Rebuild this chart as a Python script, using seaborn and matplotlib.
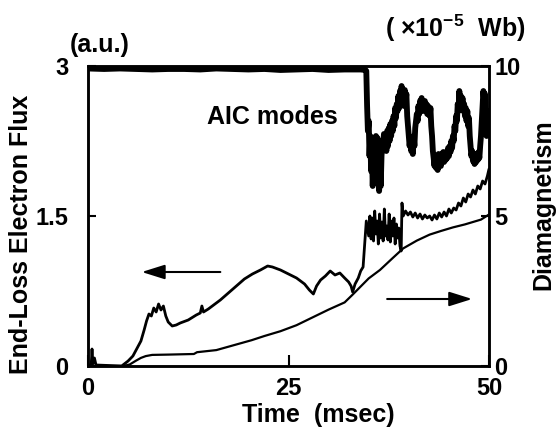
import matplotlib
matplotlib.use("Agg")
import matplotlib.pyplot as plt
import numpy as np
import pandas as pd
import seaborn as sns

# ---------------- data ----------------
time_label = "Time  (msec)"

# End-loss electron flux (left axis, a.u.)
flux_t = [0, 0.4, 0.5, 0.6, 0.8, 1.0, 4.2, 5.0, 5.6, 6.2, 6.6, 7.0, 7.3, 7.6, 7.9,
          8.2, 8.5, 8.8, 9.1, 9.4, 9.7, 10.0, 10.5, 11.0, 11.5, 12.5, 13.5, 14.0,
          14.2, 14.4, 15.0, 15.5, 16.5, 17.5, 18.5, 19.5, 20.5, 21.5, 22.4, 23.0,
          24.0, 25.0, 26.0, 27.0, 27.6, 28.1, 28.5, 29.0, 29.6, 30.2, 30.8, 31.4,
          32.0, 32.5, 32.8, 33.0, 33.3, 33.7, 34.0, 34.3, 34.7, 35.0,
          35.15, 35.3, 35.45, 35.6, 35.75, 35.9, 36.05, 36.2, 36.35, 36.5, 36.65,
          36.8, 36.95, 37.1, 37.25, 37.4, 37.55, 37.7, 37.85, 38.0, 38.15, 38.3,
          38.45, 38.6, 38.75, 38.9, 39.05, 39.15, 39.3, 39.6, 39.9, 40.2, 40.5,
          40.8, 41.1, 41.4, 41.7, 42.0, 42.3, 42.6, 42.9, 43.2, 43.5, 43.8, 44.1,
          44.4, 44.7, 45.0, 45.3, 45.6, 45.9, 46.2, 46.5, 46.8, 47.1, 47.4, 47.7,
          48.0, 48.3, 48.6, 48.9, 49.2, 49.5, 49.8, 50.0]
flux_v = [0.01, 0.01, 0.17, 0.02, 0.08, 0.01, 0.0, 0.05, 0.10, 0.19, 0.25, 0.36, 0.45,
          0.52, 0.50, 0.58, 0.54, 0.62, 0.56, 0.60, 0.50, 0.44, 0.40, 0.41, 0.43,
          0.46, 0.51, 0.53, 0.60, 0.54, 0.57, 0.60, 0.66, 0.73, 0.80, 0.87, 0.92,
          0.96, 1.00, 0.99, 0.96, 0.92, 0.88, 0.82, 0.76, 0.72, 0.80, 0.86, 0.90,
          0.95, 0.91, 0.93, 0.88, 0.84, 0.80, 0.74, 0.82, 0.88, 0.95, 0.99, 1.45,
          1.30,
          1.50, 1.27, 1.48, 1.25, 1.55, 1.32, 1.45, 1.22, 1.52, 1.28, 1.44, 1.25,
          1.57, 1.30, 1.40, 1.26, 1.52, 1.24, 1.45, 1.30, 1.48, 1.22, 1.42, 1.28,
          1.38, 1.20, 1.15, 1.63, 1.50, 1.55, 1.51, 1.54, 1.49, 1.53, 1.48, 1.52,
          1.47, 1.51, 1.48, 1.50, 1.46, 1.51, 1.47, 1.53, 1.49, 1.54, 1.50, 1.57,
          1.53, 1.58, 1.56, 1.63, 1.60, 1.68, 1.64, 1.72, 1.69, 1.76, 1.72, 1.80,
          1.77, 1.85, 1.82, 1.90, 1.97]

# Diamagnetism (right axis, x1e-5 Wb)
dia_t = [0, 4.4, 5.2, 6.0, 6.6, 7.2, 8.0, 10.0, 13.2, 13.6, 16.0, 18.0, 20.4, 22.0,
         24.0, 26.0, 28.0, 30.0, 32.0, 33.0, 34.0, 35.0, 36.4, 38.0, 39.3, 41.0,
         42.6, 44.0, 45.5, 47.0, 48.0, 49.0, 50.0]
dia_v = [0, 0, 0.05, 0.18, 0.27, 0.33, 0.37, 0.38, 0.40, 0.46, 0.53, 0.68, 0.86, 1.0,
         1.16, 1.36, 1.62, 1.88, 2.12, 2.38, 2.65, 2.92, 3.2, 3.6, 3.92, 4.18, 4.38,
         4.5, 4.62, 4.72, 4.8, 4.88, 5.05]

# AIC-mode signal (left axis scale)
aic_t = [0, 2, 4, 6, 8, 10, 12, 14, 16, 18, 20, 22, 24, 26, 28, 30, 32, 34, 34.6,
         34.7, 34.8, 34.9, 35.0, 35.1, 35.2, 35.3, 35.4, 35.5, 35.6, 35.7, 35.8,
         35.9, 36.0, 36.1, 36.2, 36.3, 36.4, 36.5, 36.6, 36.7, 36.8, 36.9, 37.0,
         37.1, 37.2, 37.3, 37.4, 37.5, 37.6, 37.7, 37.8, 37.9, 38.0, 38.1, 38.2,
         38.3, 38.4, 38.5, 38.6, 38.7, 38.8, 38.9, 39.0, 39.1, 39.2, 39.3, 39.4,
         39.5, 39.6, 39.7, 39.8, 39.9, 40.0, 40.1, 40.2, 40.3, 40.4, 40.5, 40.6,
         40.7, 40.8, 40.9, 41.0, 41.1, 41.2, 41.3, 41.4, 41.5, 41.6, 41.7, 41.8,
         41.9, 42.0, 42.1, 42.2, 42.3, 42.4, 42.5, 42.6, 42.7, 42.8, 42.9, 43.0,
         43.1, 43.2, 43.3, 43.4, 43.5, 43.6, 43.7, 43.8, 43.9, 44.0, 44.1, 44.2,
         44.3, 44.4, 44.5, 44.6, 44.7, 44.8, 44.9, 45.0, 45.1, 45.2, 45.3, 45.4,
         45.5, 45.6, 45.7, 45.8, 45.9, 46.0, 46.1, 46.2, 46.3, 46.4, 46.5, 46.6,
         46.7, 46.8, 46.9, 47.0, 47.1, 47.2, 47.3, 47.4, 47.5, 47.6, 47.7, 47.8,
         47.9, 48.0, 48.1, 48.2, 48.3, 48.4, 48.5, 48.6, 48.7, 48.8, 48.9, 49.0,
         49.1, 49.2, 49.3, 49.4, 49.5, 49.6, 49.7, 49.8, 49.9, 50.0]
aic_v = [2.975, 2.97, 2.975, 2.97, 2.965, 2.97, 2.97, 2.965, 2.975, 2.97, 2.965, 2.97,
         2.96, 2.965, 2.97, 2.96, 2.965, 2.965, 2.96,
         2.95, 2.60, 2.35, 2.45, 2.10, 2.30, 1.95, 2.15, 1.80, 2.05, 1.85, 2.25,
         2.30, 2.10, 2.28, 1.90, 1.75, 2.00, 1.80, 2.10, 2.25, 2.20, 2.32, 2.22,
         2.30, 2.15, 2.35, 2.20, 2.38, 2.25, 2.42, 2.30, 2.45, 2.35, 2.50, 2.40,
         2.58, 2.48, 2.62, 2.55, 2.70, 2.58, 2.75, 2.62, 2.80, 2.66, 2.72, 2.60,
         2.76, 2.65, 2.72, 2.50, 2.40, 2.30, 2.20, 2.28, 2.15, 2.25, 2.12, 2.30,
         2.20, 2.38, 2.45, 2.52, 2.45, 2.60, 2.52, 2.65, 2.55, 2.68, 2.58, 2.62,
         2.55, 2.65, 2.58, 2.62, 2.52, 2.60, 2.55, 2.50, 2.58, 2.40, 2.30, 2.15,
         2.08, 2.00, 2.10, 1.98, 2.08, 1.96, 2.12, 2.02, 2.10, 2.00, 2.12, 2.05,
         2.14, 2.04, 2.10, 2.06, 2.14, 2.08, 2.18, 2.10, 2.20, 2.14, 2.25, 2.18,
         2.30, 2.25, 2.40, 2.35, 2.50, 2.45, 2.62, 2.55, 2.75, 2.62, 2.70, 2.60,
         2.68, 2.55, 2.62, 2.50, 2.58, 2.45, 2.55, 2.40, 2.48, 2.30, 2.20, 2.10,
         2.15, 2.05, 2.12, 2.02, 2.10, 2.04, 2.12, 2.06, 2.14, 2.08, 2.20, 2.30,
         2.45, 2.60, 2.75, 2.65, 2.72, 2.50, 2.30, 2.40, 2.55, 2.45]

x_ticks = [0, 25, 50]
x_ticklabels = ["0", "25", "50"]
left_ticks = [0, 1.5, 3]
left_ticklabels = ["0", "1.5", "3"]
right_ticks = [0, 5, 10]
right_ticklabels = ["0", "5", "10"]

# ---------------- style ----------------
sns.set_style("white")
plt.rcParams["font.family"] = ["Liberation Sans", "DejaVu Sans"]
plt.rcParams["font.weight"] = "bold"
plt.rcParams["text.color"] = "black"
plt.rcParams["axes.labelcolor"] = "black"
plt.rcParams["xtick.color"] = "black"
plt.rcParams["ytick.color"] = "black"
plt.rcParams["mathtext.fontset"] = "custom"
plt.rcParams["mathtext.rm"] = "Liberation Sans:bold"
plt.rcParams["mathtext.bf"] = "Liberation Sans:bold"
plt.rcParams["mathtext.default"] = "bf"

W, H = 557, 443
fig = plt.figure(figsize=(W / 100, H / 100), dpi=100)
ax = fig.add_axes([88 / W, 1 - 366 / H, 401 / W, 300 / H])
ax2 = ax.twinx()

df_flux = pd.DataFrame({"t": flux_t, "v": flux_v})
df_aic = pd.DataFrame({"t": aic_t, "v": aic_v})
df_dia = pd.DataFrame({"t": dia_t, "v": dia_v})

sns.lineplot(data=df_aic, x="t", y="v", ax=ax, color="black", lw=4.2,
             estimator=None, sort=False)
sns.lineplot(data=df_flux, x="t", y="v", ax=ax, color="black", lw=2.0,
             estimator=None, sort=False)
sns.lineplot(data=df_dia, x="t", y="v", ax=ax2, color="black", lw=1.6,
             estimator=None, sort=False)

ax.set_xlim(0, 50)
ax.set_ylim(0, 3)
ax2.set_ylim(0, 10)
ax.set_xlabel("")
ax.set_ylabel("")
ax2.set_ylabel("")

ax.set_xticks(x_ticks)
ax.set_xticklabels(x_ticklabels)
ax.set_yticks(left_ticks)
ax.set_yticklabels(left_ticklabels)
ax2.set_yticks(right_ticks)
ax2.set_yticklabels(right_ticklabels)

for a in (ax, ax2):
    for s in a.spines.values():
        s.set_visible(True)
        s.set_color("black")
        s.set_linewidth(1.8)

ax.tick_params(axis="x", direction="in", length=8, width=1.5, labelsize=17,
               pad=8, bottom=True, top=False, colors="black")
ax.tick_params(axis="y", direction="in", length=6, width=1.5, labelsize=17,
               pad=14, left=True, right=False, colors="black")
ax2.tick_params(axis="y", direction="in", length=6, width=1.5, labelsize=17,
                pad=4, right=True, left=False, colors="black")
for lab in ax.get_xticklabels() + ax.get_yticklabels() + ax2.get_yticklabels():
    lab.set_fontweight("bold")
    lab.set_color("black")

# arrows
arrow_kw = dict(arrowstyle="-|>,head_length=0.7,head_width=0.22", lw=1.5,
                color="black", shrinkA=0, shrinkB=0, mutation_scale=20)
ax.annotate("", xy=(6.7, 0.94), xytext=(16.5, 0.94), arrowprops=arrow_kw)
ax.annotate("", xy=(47.9, 0.67), xytext=(37.3, 0.67), arrowprops=arrow_kw)

# texts
fs = 18
tk = dict(fontsize=fs, fontweight="bold", color="black")
fig.text(207 / W, 1 - 124 / H, "AIC modes", ha="left", va="baseline", **tk)
fig.text(100 / W, 1 - 52 / H, "(a.u.)", ha="center", va="baseline", **tk)
fig.text(455 / W, 1 - 37 / H, r"( ×$10^{-5}$  Wb)", ha="center",
         va="baseline", **tk)
fig.text(318 / W, 1 - 422 / H, time_label, ha="center", va="baseline", **tk)
fig.text(21 / W, 1 - 234 / H, "End-Loss Electron Flux", rotation=90,
         ha="center", va="center", **tk)
fig.text(543 / W, 1 - 205 / H, "Diamagnetism", rotation=90,
         ha="center", va="center", **tk)

fig.savefig("out.png", dpi=100, facecolor="white")
